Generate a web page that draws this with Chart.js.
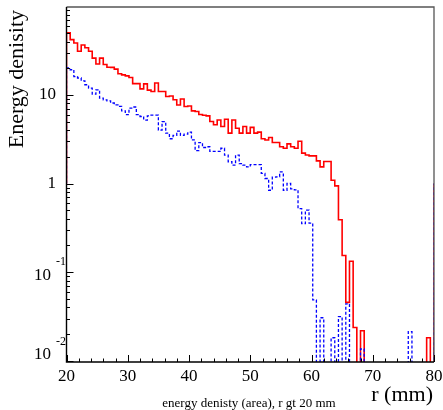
<!DOCTYPE html>
<html><head><meta charset="utf-8">
<script src="https://cdn.jsdelivr.net/npm/chart.js@4.4.1/dist/chart.umd.min.js"></script>
<style>html,body{margin:0;padding:0;background:#fff;overflow:hidden}canvas{display:block}</style>
</head><body>
<canvas id="c" width="443" height="410"></canvas>
<script>
// ---- data ----
const X_MIN = 20, X_MAX = 80;
const BIN_WIDTH = 0.6;          // 100 bins from 20 to 80 mm
const Y_MIN = 0.0097, Y_MAX = 98;
const edgeLevel = 1;            // level the outline starts from / returns to at the histogram edges

// red solid histogram (bin contents, 100 bins)
const redVals = [
  50, 42, 38.5, 31, 36.5, 34, 31, 26, 22.3, 26,
  22, 20.5, 20.4, 19.5, 17.3, 16.8, 16.4, 15.7, 13.4, 13.4,
  11.7, 13.3, 11.3, 10.9, 13.6, 10.9, 10.9, 9.6, 9.7, 8.8,
  7.7, 9.0, 7.4, 7.5, 6.6, 6.5, 6.0, 5.9, 5.8, 5.0,
  4.6, 5.2, 4.4, 5.3, 3.7, 5.2, 4.2, 3.7, 4.4, 3.7,
  4.3, 3.7, 3.8, 3.2, 3.1, 3.3, 2.9, 2.9, 2.6, 2.5,
  2.8, 2.6, 2.5, 3.0, 2.2, 2.1, 2.05, 2.05, 1.8, 1.54,
  1.77, 1.77, 1.09, 0.94, 0.39, 0.154, 0.0456, 0.133, 0.0238, 0,
  0.0218, 0, 0, 0, 0, 0, 0, 0, 0, 0,
  0, 0, 0, 0, 0, 0, 0, 0, 0.0182, 0
];
// blue dashed histogram (bin contents, 100 bins)
const blueVals = [
  20.1, 19.2, 16.1, 15.5, 14.4, 13.0, 11.9, 10.2, 11.4, 9.2,
  8.8, 8.55, 8.1, 7.7, 7.4, 6.6, 6.0, 7.1, 7.3, 6.0,
  5.7, 5.2, 5.8, 5.9, 5.9, 4.0, 5.0, 3.7, 3.2, 3.5,
  3.9, 3.5, 3.6, 3.8, 3.1, 2.35, 2.9, 2.55, 2.6, 2.3,
  2.3, 2.3, 2.5, 2.09, 1.76, 1.61, 2.09, 1.68, 1.61, 1.54,
  1.63, 1.63, 1.63, 1.30, 1.14, 0.84, 1.18, 1.19, 1.35, 0.84,
  1.0, 0.87, 0.85, 0.52, 0.352, 0.50, 0.358, 0.0486, 0, 0.0306,
  0, 0, 0.0182, 0, 0.0316, 0, 0.044, 0, 0, 0,
  0.0136, 0, 0, 0, 0, 0, 0, 0, 0, 0,
  0, 0, 0, 0.0214, 0, 0, 0, 0, 0, 0
];

const xTickValues = [20, 30, 40, 50, 60, 70, 80];
const xMinorStep = 2;
const yTickValues = [0.01, 0.1, 1, 10];
const yTickBase = ['10', '10', '1', '10'];
const yTickExp  = ['-2', '-1', '', ''];
const yTitle = 'Energy denisity';
const xTitle = 'r (mm)';
const caption = 'energy denisty (area), r gt 20 mm';

// ---- build outline points (bin low edges, stepped) ----
function toPoints(vals) {
  const below = Y_MIN / 100; // empty bins drop below the axis floor
  const pts = [{x: X_MIN, y: edgeLevel}];
  vals.forEach((v, i) => pts.push({x: X_MIN + i * BIN_WIDTH, y: v > 0 ? v : below}));
  pts.push({x: X_MAX, y: edgeLevel});
  return pts;
}

const SERIF = '"Liberation Serif", "Times New Roman", serif';

const framePlugin = {
  id: 'rootFrame',
  afterDraw(chart) {
    const c = chart.ctx, a = chart.chartArea, xs = chart.scales.x, ys = chart.scales.y;
    c.save();
    // top & right frame
    c.strokeStyle = '#555'; c.lineWidth = 1.3;
    c.beginPath(); c.moveTo(a.left, a.top); c.lineTo(a.right, a.top); c.lineTo(a.right, a.bottom); c.stroke();
    // axes
    c.strokeStyle = '#000'; c.lineWidth = 1.4;
    c.beginPath(); c.moveTo(a.left, a.top); c.lineTo(a.left, a.bottom); c.lineTo(a.right, a.bottom); c.stroke();
    // y ticks (inside)
    c.lineWidth = 1;
    c.beginPath();
    for (let d = -3; d <= 2; d++) {
      for (let m = 1; m <= 9; m++) {
        const v = m * Math.pow(10, d);
        if (v < Y_MIN || v > Y_MAX) continue;
        const y = Math.round(ys.getPixelForValue(v)) + 0.5;
        const len = m === 1 ? 7 : 3.5;
        c.moveTo(a.left, y); c.lineTo(a.left + len, y);
      }
    }
    // x ticks (inside)
    for (let v = X_MIN; v <= X_MAX; v += xMinorStep) {
      const x = Math.round(xs.getPixelForValue(v)) + 0.5;
      const len = (v % 10 === 0) ? 7 : 3.5;
      c.moveTo(x, a.bottom); c.lineTo(x, a.bottom - len);
    }
    c.stroke();

    c.fillStyle = '#000';
    // x labels
    c.font = '17px ' + SERIF;
    c.textAlign = 'center'; c.textBaseline = 'top';
    xTickValues.forEach(v => c.fillText(String(v), xs.getPixelForValue(v), a.bottom + 6));
    // y labels
    yTickValues.forEach((v, i) => {
      let y = ys.getPixelForValue(v);
      if (i === 0) y -= 9; // lowest label is lifted to stay inside the axis span
      if (yTickExp[i]) {
        c.font = '17px ' + SERIF; c.textAlign = 'right'; c.textBaseline = 'middle';
        c.fillText(yTickBase[i], 51, y + 3);
        c.font = '12px ' + SERIF; c.textAlign = 'left';
        c.fillText(yTickExp[i], 56, y - 10);
      } else {
        c.font = '17px ' + SERIF; c.textAlign = 'right'; c.textBaseline = 'middle';
        c.fillText(yTickBase[i], 56, y);
      }
    });
    // titles
    c.font = '22px ' + SERIF;
    c.textAlign = 'right'; c.textBaseline = 'middle';
    c.fillText(xTitle, 433, 395);
    c.save();
    c.translate(17, a.top + 3);
    c.rotate(-Math.PI / 2);
    c.fillText(yTitle, 0, 0);
    c.restore();
    c.font = '13px ' + SERIF;
    c.textAlign = 'center'; c.textBaseline = 'middle';
    c.fillText(caption, 249, 404);
    c.restore();
  }
};

new Chart(document.getElementById('c').getContext('2d'), {
  type: 'line',
  data: {
    datasets: [
      {data: toPoints(blueVals), borderColor: '#0000ff', borderWidth: 1.3, borderDash: [3, 2],
       stepped: true, pointRadius: 0, fill: false, order: 0},
      {data: toPoints(redVals), borderColor: '#ff0000', borderWidth: 1.6,
       stepped: true, pointRadius: 0, fill: false, order: 1}
    ]
  },
  options: {
    responsive: false, animation: false, devicePixelRatio: 1,
    layout: {padding: {left: 0, right: 9, top: 7, bottom: 0}},
    plugins: {legend: {display: false}, tooltip: {enabled: false}},
    scales: {
      x: {type: 'linear', min: X_MIN, max: X_MAX, bounds: 'data',
          grid: {display: false}, border: {display: false}, ticks: {display: false},
          afterFit(s) { s.height = 48; }},
      y: {type: 'logarithmic', min: Y_MIN, max: Y_MAX, bounds: 'data',
          grid: {display: false}, border: {display: false}, ticks: {display: false},
          afterFit(s) { s.width = 66.5; }}
    }
  },
  plugins: [framePlugin]
});
</script>
</body></html>
